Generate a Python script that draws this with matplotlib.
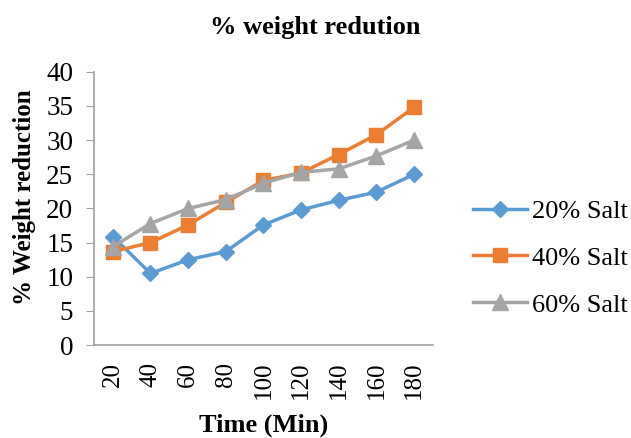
import numpy as np
from matplotlib import pyplot as plt

plt.rcParams['font.family'] = ['Liberation Serif', 'DejaVu Serif']

times = ['20', '40', '60', '80', '100', '120', '140', '160', '180']
salt20 = [15.9, 10.5, 12.5, 13.7, 17.6, 19.8, 21.2, 22.4, 25.0]
salt40 = [13.7, 15.0, 17.6, 20.9, 24.1, 25.2, 27.9, 30.8, 34.8]
salt60 = [14.4, 17.8, 20.0, 21.3, 23.7, 25.3, 25.8, 27.7, 30.0]

fig = plt.figure(figsize=(6.31, 4.38), dpi=100)
ax = fig.add_axes([0.149, 0.212, 0.537, 0.624])

x = np.arange(len(times))
ax.plot(x, salt20, color='#5B9BD5', lw=2.5, marker='D', ms=8, label='20% Salt')
ax.plot(x, salt40, color='#ED7D31', lw=2.5, marker='s', ms=10, label='40% Salt')
ax.plot(x, salt60, color='#A5A5A5', lw=2.5, marker='^', ms=11, label='60% Salt')

ax.set_xlim(-0.5, len(times) - 0.5)
ax.set_ylim(0, 40)
ax.set_yticks(range(0, 41, 5))
ax.set_xticks(x)
ax.set_xticklabels(times, rotation=90)
ax.tick_params(axis='y', labelsize=19.5, length=6, color='#A0A0A0', pad=9)
ax.tick_params(axis='x', labelsize=18, length=0, pad=12)

for s in ['top', 'right']:
    ax.spines[s].set_visible(False)
for s in ['left', 'bottom']:
    ax.spines[s].set_color('#A0A0A0')
    ax.spines[s].set_linewidth(1.2)

ax.set_xlabel('Time (Min)', fontsize=19, fontweight='bold')
ax.xaxis.set_label_coords(0.5, -0.25)
ax.set_ylabel('% Weight reduction', fontsize=18, fontweight='bold')
ax.yaxis.set_label_coords(-0.172, 0.54)
fig.text(0.5, 0.922, '% weight redution', fontsize=19, fontweight='bold',
         ha='center', va='baseline')

fig.legend(loc='center left', bbox_to_anchor=(0.7496, 0.411), frameon=False,
           fontsize=19, handlelength=2.05, handletextpad=0.2, labelspacing=0.89,
           borderpad=0, borderaxespad=0)

plt.savefig('out.png')
